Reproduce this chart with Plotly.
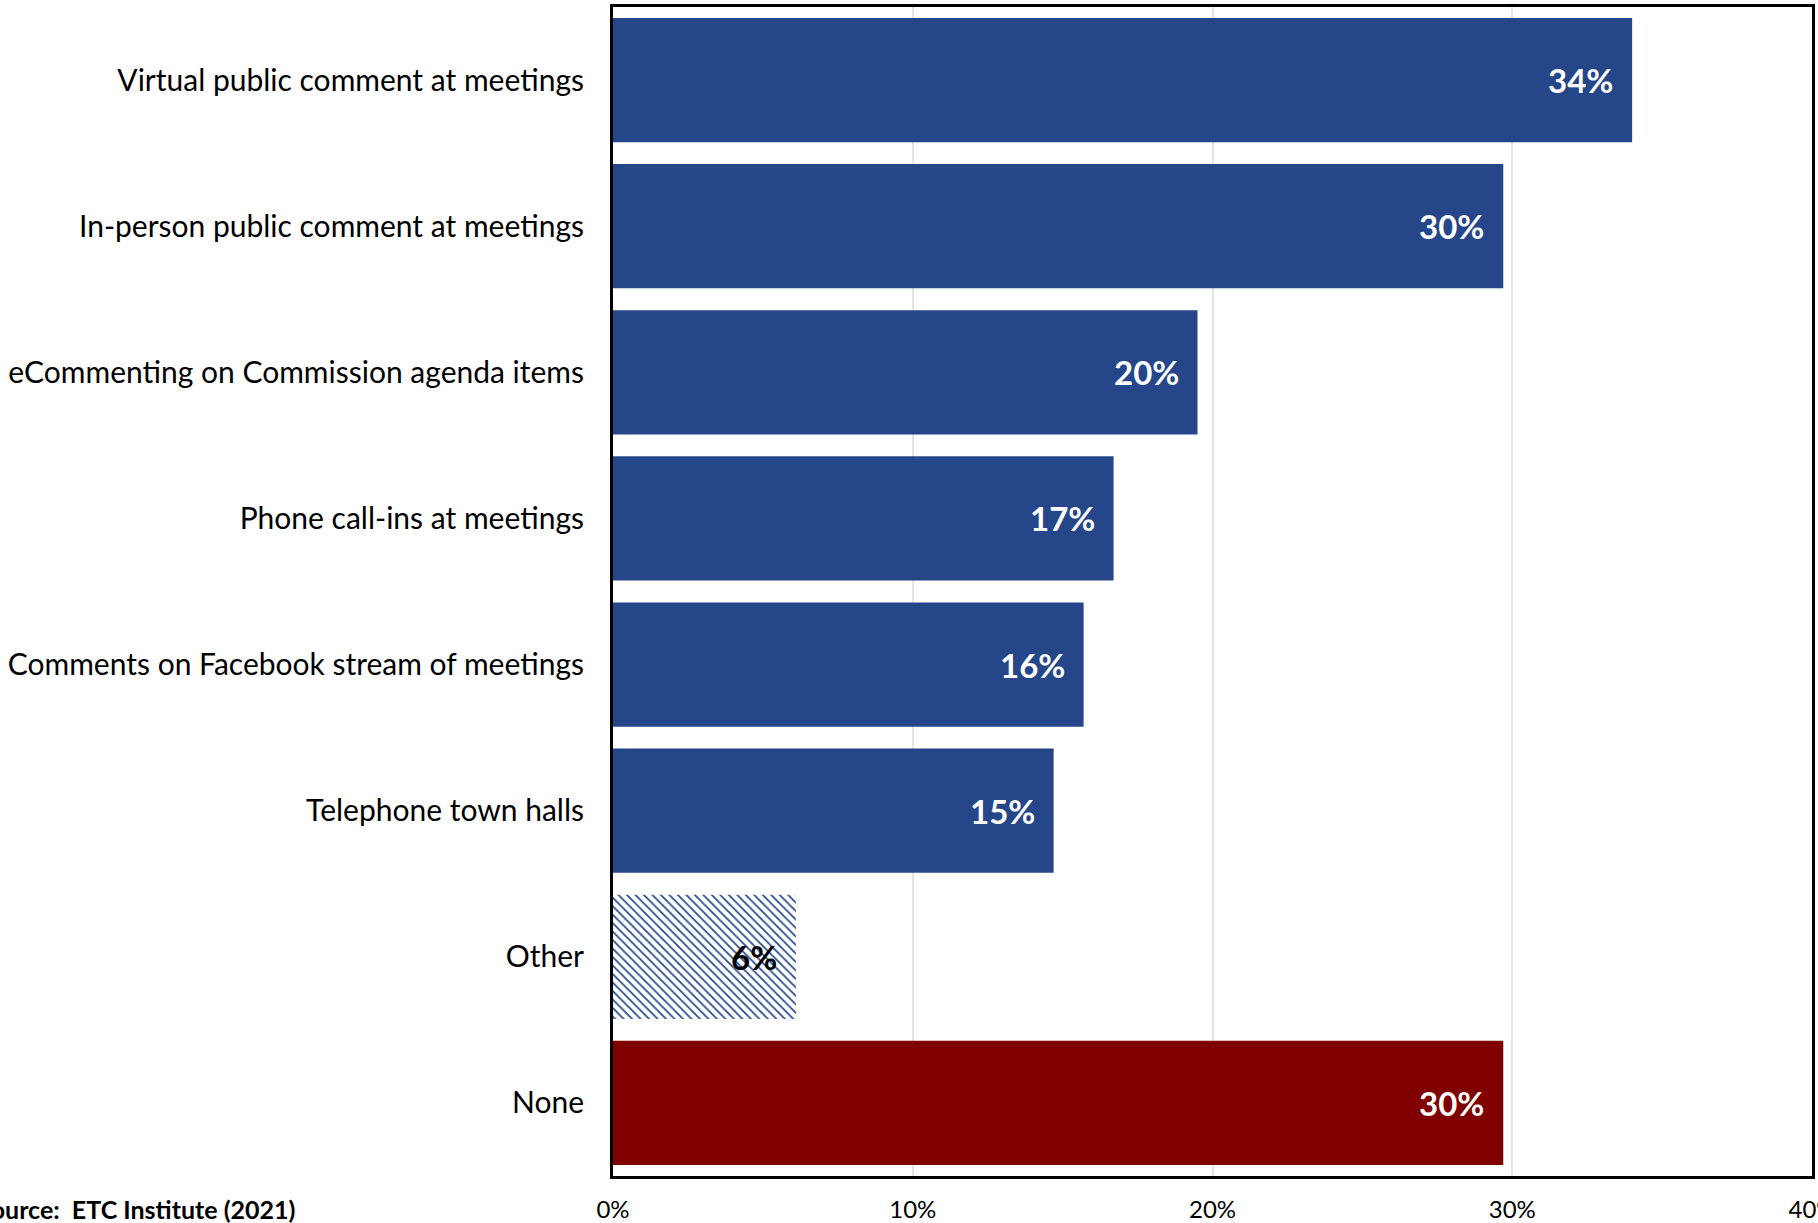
import plotly.graph_objects as go

# Survey responses: preferred ways to provide public input
categories = [
    "Virtual public comment at meetings",
    "In-person public comment at meetings",
    "eCommenting on Commission agenda items",
    "Phone call-ins at meetings",
    "Comments on Facebook stream of meetings",
    "Telephone town halls",
    "Other",
    "None",
]
values = [34.0, 29.7, 19.5, 16.7, 15.7, 14.7, 6.1, 29.7]
x_ticks = [0, 10, 20, 30, 40]
x_tick_labels = ["0%", "10%", "20%", "30%", "40%"]
source_note = "Source:  ETC Institute (2021)"

BLUE = "#26468A"
RED = "#800000"
FONT = "Lato"

fig = go.Figure()

# Solid bars for named methods, hatched for "Other", dark red for "None"
colors = []
shapes = []
for c in categories:
    if c == "None":
        colors.append(RED)
        shapes.append("")
    elif c == "Other":
        colors.append(BLUE)
        shapes.append("\\")
    else:
        colors.append(BLUE)
        shapes.append("")

fig.add_trace(go.Bar(
    y=categories,
    x=values,
    orientation="h",
    marker=dict(
        color=colors,
        line=dict(width=0),
        pattern=dict(shape=shapes, fgcolor="#3050A0", bgcolor="white",
                     size=6, solidity=0.28, fillmode="replace"),
    ),
    hoverinfo="skip",
))

# Value labels inside the bar ends
for c, v in zip(categories, values):
    fig.add_annotation(
        x=v, y=c, xref="x", yref="y",
        text=f"<b>{round(v):.0f}%</b>",
        showarrow=False, xanchor="right", xshift=-17,
        font=dict(family=FONT, size=33,
                  color="black" if c == "Other" else "white"),
    )

fig.add_annotation(
    x=0, y=0, xref="paper", yref="paper",
    text=f"<b>{source_note}</b>", showarrow=False,
    xanchor="left", yanchor="top", xshift=-638, yshift=-16,
    font=dict(family=FONT, size=25, color="black"),
)

fig.update_layout(
    width=1818, height=1223,
    margin=dict(l=613, r=6, t=7, b=47, autoexpand=False),
    paper_bgcolor="white", plot_bgcolor="white",
    bargap=0.15,
    showlegend=False,
    font=dict(family=FONT, color="black"),
)
fig.update_xaxes(
    range=[0, 40], tickvals=x_ticks, ticktext=x_tick_labels,
    showgrid=True, gridcolor="#E4E4E4", gridwidth=1.5,
    showline=True, linecolor="black", linewidth=3, mirror=True,
    zeroline=False, ticks="", ticklabelstandoff=10,
    ticklabeloverflow="allow", automargin=False,
    tickfont=dict(family=FONT, size=24),
)
fig.update_yaxes(
    autorange="reversed", categoryorder="array", categoryarray=categories,
    showline=True, linecolor="black", linewidth=3, mirror=True,
    ticks="", ticklabelstandoff=20, automargin=False,
    tickfont=dict(family=FONT, size=30),
)

fig.write_html("out.html")
